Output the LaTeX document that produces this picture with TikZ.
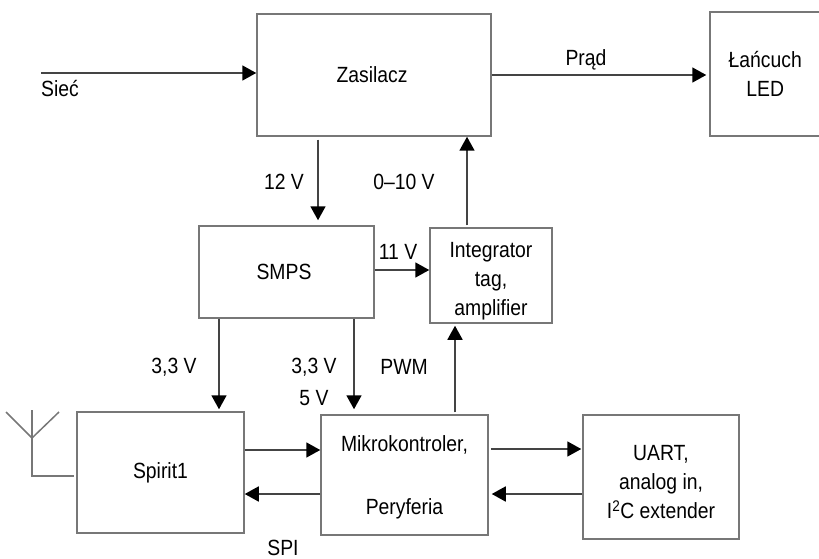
\documentclass[tikz,border=0pt]{standalone}
\usepackage{fontspec}
\setmainfont[FakeStretch=0.88]{Liberation Sans}
\usetikzlibrary{arrows.meta}
\definecolor{boxgray}{HTML}{777777}
\definecolor{linegray}{HTML}{444444}
\newcommand{\pushdown}[1]{\rule{0pt}{#1pt}}
\tikzset{
  x=1pt,y=-1pt,
  block/.style={draw=boxgray,line width=1.5pt,fill=white,inner sep=0pt,align=center,
    font=\fontsize{22}{29}\selectfont},
  lab/.style={inner sep=0pt,font=\fontsize{22}{24}\selectfont},
  conn/.style={draw=linegray,line width=1.7pt,-{Triangle[length=14pt,width=15pt,color=black]}},
  wire/.style={draw=boxgray,line width=1.5pt},
}
\begin{document}
\begin{tikzpicture}
\useasboundingbox (0,0) rectangle (819,559);
\node[block,minimum width=234pt,minimum height=122pt] (zas) at (374,75) {\hspace*{-4pt}Zasilacz};
\node[block,minimum width=110.5pt,minimum height=124pt] (led) at (765.25,74) {\pushdown{16}Łańcuch\\LED};
\node[block,minimum width=175pt,minimum height=92pt] (smps) at (286.5,272) {\hspace*{-5pt}SMPS};
\node[block,minimum width=122pt,minimum height=95pt] (integ) at (491,275.5) {\pushdown{26}Integrator\\tag,\\amplifier};
\node[block,minimum width=167pt,minimum height=121pt] (spirit) at (160.5,472.5) {Spirit1};
\node[block,minimum width=167pt,minimum height=120pt] (mikro) at (404.5,475) {\pushdown{20}Mikrokontroler,\\[34pt]Peryferia};
\node[block,minimum width=156pt,minimum height=124pt] (uart) at (661,477) {\pushdown{26}UART,\\analog in,\\I\textsuperscript{2}C extender};
% free ends
\coordinate (siecstart) at (41,73);
\coordinate (antA) at (6,412);
\coordinate (antB) at (59,412);
\coordinate (antT) at (32,410);
\coordinate (antM) at (32,438);
\coordinate (antC) at (32,476);
% connectors
\draw[conn] (siecstart) -- ([shift={(0,-2)}]zas.west);
\draw[conn] ([shift={(0,0)}]zas.east) -- ([shift={(-3,1)}]led.west);
\draw[conn] ([shift={(-56,3)}]zas.south) -- ([shift={(31.5,-5)}]smps.north);
\draw[conn] ([shift={(-24,-2)}]integ.north) -- ([shift={(93,0)}]zas.south);
\draw[conn] ([shift={(0,-2)}]smps.east) -- ([shift={(0,-5.5)}]integ.west);
\draw[conn] ([shift={(-67.5,0)}]smps.south) -- ([shift={(58.5,-2)}]spirit.north);
\draw[conn] ([shift={(67.5,0)}]smps.south) -- ([shift={(-50.5,-5)}]mikro.north);
\draw[conn] ([shift={(50.5,-2)}]mikro.north) -- ([shift={(-36,2)}]integ.south);
\draw[conn] ([shift={(0,-22.5)}]spirit.east) -- ([shift={(0,-25)}]mikro.west);
\draw[conn] ([shift={(0,19)}]mikro.west) -- ([shift={(0,21.5)}]spirit.east);
\draw[conn] ([shift={(2,-26)}]mikro.east) -- ([shift={(-1,-28)}]uart.west);
\draw[conn] ([shift={(0,17)}]uart.west) -- ([shift={(3,19)}]mikro.east);
% antenna
\draw[wire] (antA) -- (antM) -- (antB);
\draw[wire] (antT) -- (antC) -- ([shift={(-2,3.5)}]spirit.west);
% labels
\node[lab] (lsiec) at (60,89) {Sieć};
\node[lab] (lprad) at (586,60) {Prąd};
\node[lab] (l12) at (284,182) {12 V};
\node[lab] (l010) at (404,182) {0–10 V};
\node[lab] (l11) at (398,252) {11 V};
\node[lab] (l33a) at (174,367) {3,3 V};
\node[lab] (l33b) at (314,367) {3,3 V};
\node[lab] (l5) at (314,398) {5 V};
\node[lab] (lpwm) at (404,367) {PWM};
\node[lab] (lspi) at (283,548) {SPI};
\end{tikzpicture}
\end{document}
